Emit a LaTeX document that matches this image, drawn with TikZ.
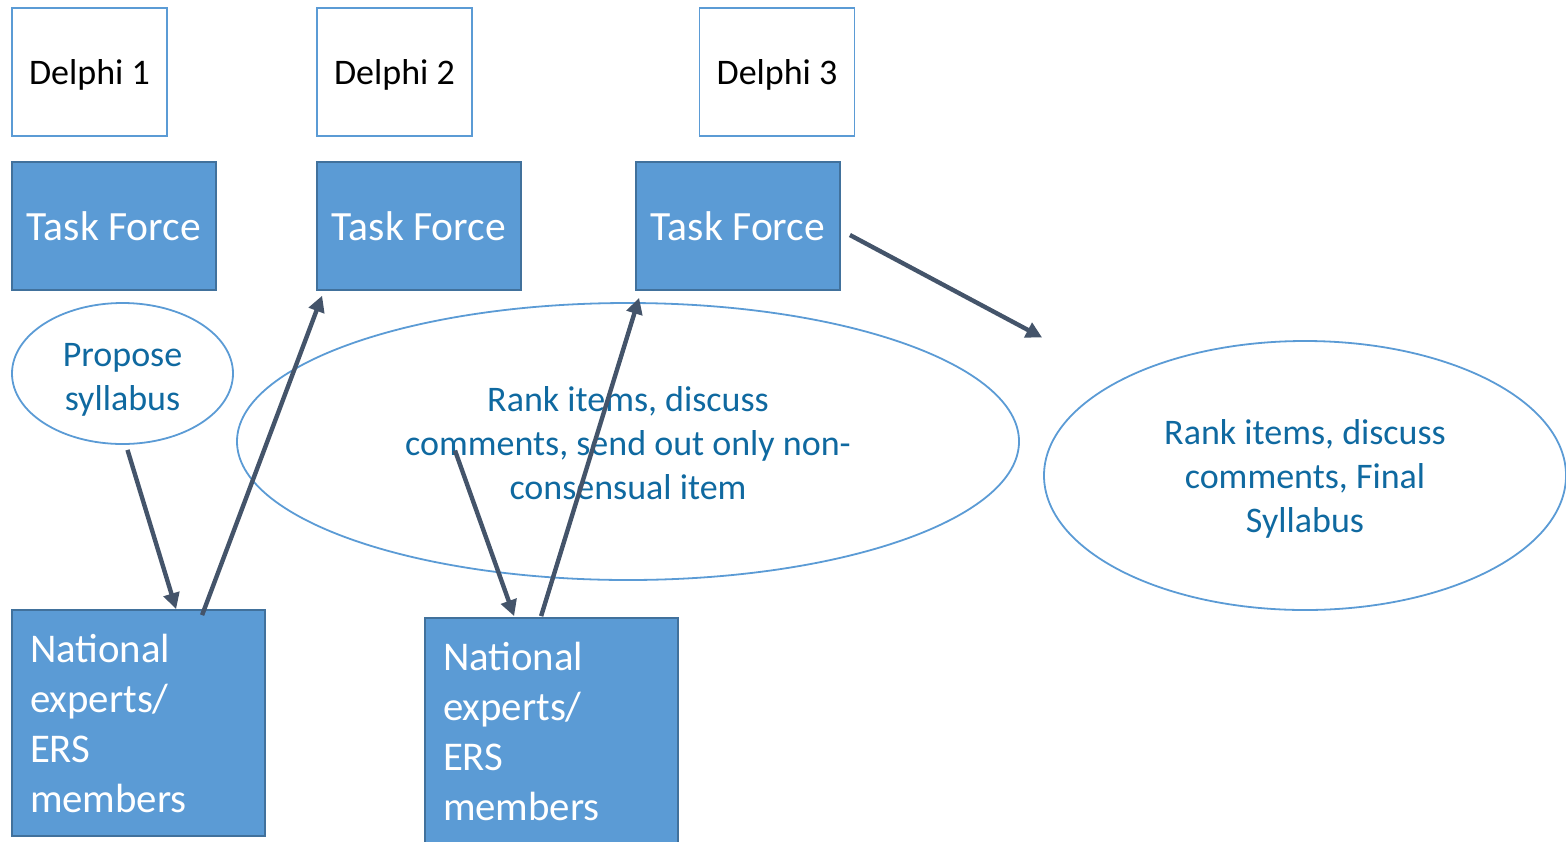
\documentclass[tikz,border=0pt]{standalone}
\usepackage{fontspec}
\setmainfont{Carlito}
\usetikzlibrary{shapes,positioning,arrows.meta,calc}
\definecolor{boxblue}{HTML}{5B9BD5}
\definecolor{boxedge}{HTML}{41719C}
\definecolor{ovaltext}{HTML}{0F69A0}
\definecolor{arrowgray}{HTML}{44546A}

\begin{document}
\begin{tikzpicture}[x=0.5pt,y=-0.5pt]
\tikzstyle{phase}=[draw=boxblue, line width=0.9pt, fill=white, rectangle, minimum width=77.5pt, minimum height=64pt, text depth=0pt, font=\fontsize{18}{21}\selectfont];
\tikzstyle{task}=[draw=boxedge, line width=0.9pt, fill=boxblue, text=white, rectangle, minimum width=102pt, minimum height=64pt, font=\fontsize{20.8}{24}\selectfont];
\tikzstyle{oval}=[draw=boxblue, line width=0.9pt, ellipse, inner sep=0pt];
\tikzstyle{ovaltxt}=[align=center, text=ovaltext, font=\fontsize{18}{22}\selectfont];
\tikzstyle{experts}=[draw=boxedge, line width=0.9pt, fill=boxblue, text=white, rectangle, minimum width=126.5pt, minimum height=113pt, inner xsep=9pt, text width=108.5pt, align=left, font=\fontsize{20.4}{25}\selectfont];
\useasboundingbox (0,0) rectangle (1566,841);
\begin{scope}[>={Triangle[length=8pt,width=8pt]}]
  \node (delphi1) at (89.5,72) [phase]{Delphi 1};
  \node (delphi2) at (394.5,72) [phase]{Delphi 2};
  \node (delphi3) at (777,72) [phase]{Delphi 3};
  \node (tf1) [below=12pt of delphi1.south west, anchor=north west, task]{Task Force};
  \node (tf2) [below=12pt of delphi2.south west, anchor=north west, task]{Task Force};
  \node (tf3) at (738,226) [task]{Task Force};

  \node (propose) at (122.5,373.5) [oval, minimum width=110.5pt, minimum height=70.5pt]{};
  \node (rank) at (628,441.5) [oval, minimum width=391pt, minimum height=138.5pt]{};
  \node (final) at (1305,475.5) [oval, minimum width=261pt, minimum height=134.5pt]{};
  \node (proposetxt) at (122.5,380) [ovaltxt]{Propose\\syllabus};
  \node (ranktxt) at (628,443) [ovaltxt]{Rank items, discuss\\comments, send out only non-\\consensual item};
  \node (finaltxt) at (1305,479) [ovaltxt]{Rank items, discuss\\comments, Final\\Syllabus};

  \node (nb1) at (138.5,723) [experts]{National\\experts/\\ERS\\members};
  \node (nb2) at (551.5,731) [experts]{National\\experts/\\ERS\\members};

  \begin{scope}[line width=2.2pt, draw=arrowgray, color=arrowgray]
  \draw[->] ($(propose.south)+(5,5)$) -- ($(nb1.north west)+(165,0)$);
  \draw[->] ($(nb1.north west)+(191,6)$) -- ($(tf2.south west)+(6,5)$);
  \draw[->] ($(rank.center)+(-173,9)$) -- ($(nb2.north west)+(90,-1)$);
  \draw[->] ($(nb2.north west)+(117,-1)$) -- ($(tf3.south west)+(4,7)$);
  \draw[->] ($(tf3.east)+(9,9)$) -- ($(final.west)+(-1,-138)$);
  \end{scope}
\end{scope}
\end{tikzpicture}
\end{document}
